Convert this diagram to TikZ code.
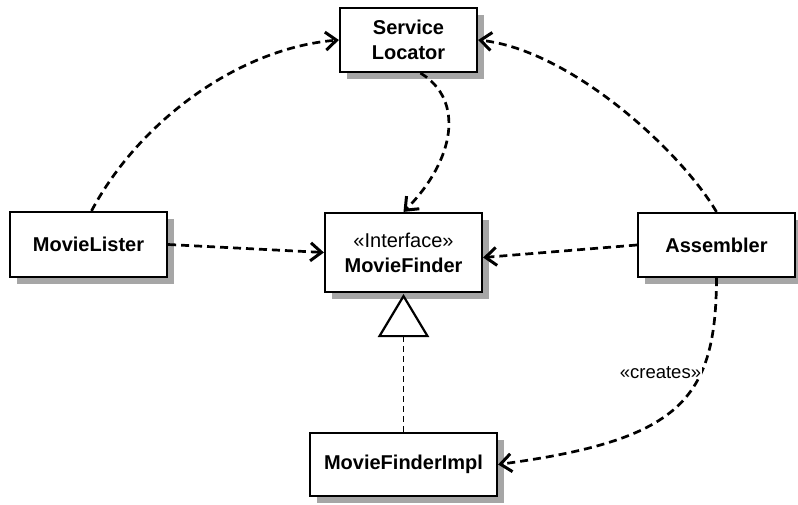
\documentclass[tikz,border=0pt]{standalone}
\usepackage{fontspec}
\setmainfont{Liberation Sans}
\usetikzlibrary{arrows.meta,shadows,calc}
\begin{document}
\begin{tikzpicture}[x=1pt,y=-1pt,
  box/.style={draw, line width=2.2pt, fill=white, rectangle, inner sep=0pt,
    font=\fontsize{20}{25}\selectfont\bfseries, align=center,
    drop shadow={shadow xshift=7pt, shadow yshift=-7pt, fill=gray!70, opacity=1}},
  dep/.style={line width=2.7pt, dash pattern=on 8pt off 5pt,
    -{Straight Barb[length=11pt,width=18pt,line width=3pt]}},
  lbl/.style={font=\fontsize{18.5}{22}\selectfont, fill=white, inner sep=1pt},
]
\useasboundingbox (0,0) rectangle (798,504);

\node[box, minimum width=137pt, minimum height=64pt] (sl) at (408.5,40) {Service\\Locator};
\node[box, minimum width=157pt, minimum height=65pt] (ml) at (88.5,244.5) {MovieLister};
\node[box, minimum width=157pt, minimum height=79pt] (mf) at (403.5,252.5)
  {{\mdseries «Interface»}\\MovieFinder};
\node[box, minimum width=157pt, minimum height=64pt] (as) at (716.5,245) {Assembler};
\node[box, minimum width=187pt, minimum height=63pt] (mfi) at (403.5,464.5) {MovieFinderImpl};

% realization triangle
\draw[line width=2.2pt, fill=white, line join=miter] ([yshift=-3pt]mf.south) -- ++(-24,40) -- ++(48,0) -- cycle;
\coordinate (tb) at ($(mf.south)+(0,43)$);
\draw[line width=1.4pt, dash pattern=on 6pt off 4pt] (tb) -- (mfi.north);

% dependencies
\draw[dep] ([xshift=3pt]ml.north) .. controls (140,120) and (240,48) .. (sl.west);
\draw[dep] ([xshift=12pt]sl.south) .. controls (465,100) and (455,160) .. (mf.north);
\draw[dep] (as.north) .. controls (680,150) and (570,50) .. (sl.east);
\draw[dep] (ml.east) -- (mf.west);
\draw[dep] (as.west) -- ([yshift=-5pt]mf.east);
\draw[dep] (as.south) .. controls (716,400) and (680,440) .. (mfi.east)
  node[lbl, pos=0.33, xshift=-40pt, yshift=2pt] {«creates»};
\end{tikzpicture}
\end{document}
